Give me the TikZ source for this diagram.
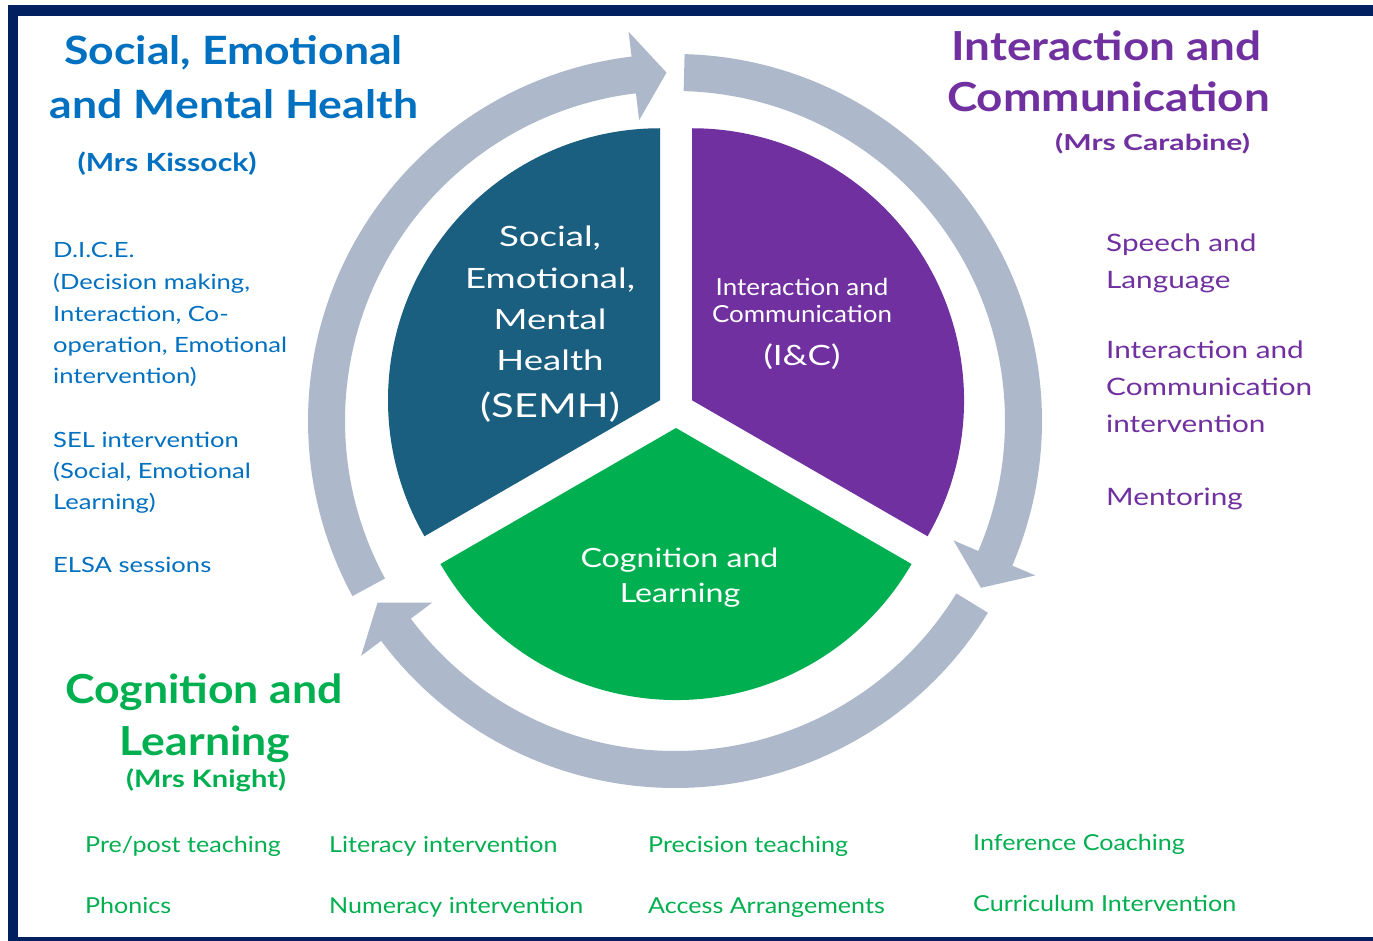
\documentclass[tikz,border=0pt]{standalone}
\usepackage{fontspec}
\setmainfont{Lato}
\usepackage{graphicx}
\definecolor{navy}{HTML}{002060}
\definecolor{semhfill}{HTML}{1A5E80}
\definecolor{icfill}{HTML}{7030A0}
\definecolor{clfill}{HTML}{00B050}
\definecolor{ringgray}{HTML}{ADB9CA}
\definecolor{tblue}{HTML}{0070C0}
\definecolor{tpurple}{HTML}{7030A0}
\definecolor{tgreen}{HTML}{00B050}
\newlength\tw
\newcommand\mkstretch[3]{\settowidth\tw{#3}\pgfmathsetmacro#1{#2/\tw}}
\newcommand\fHA{\fontsize{39}{39}\selectfont\bfseries}
\newcommand\fHB{\fontsize{40}{40}\selectfont\bfseries}
\newcommand\fHC{\fontsize{40}{40}\selectfont\bfseries}
\newcommand\fMA{\fontsize{25}{25}\selectfont\bfseries}
\newcommand\fMB{\fontsize{22}{22}\selectfont\bfseries}
\newcommand\fMC{\fontsize{24}{24}\selectfont\bfseries}
\newcommand\fSS{\fontsize{28}{28}\selectfont}
\newcommand\fSX{\fontsize{33}{33}\selectfont}
\newcommand\fSI{\fontsize{23.5}{23.5}\selectfont}
\newcommand\fSJ{\fontsize{28}{28}\selectfont}
\newcommand\fSG{\fontsize{26.5}{26.5}\selectfont}
\newcommand\fLB{\fontsize{21}{21}\selectfont}
\newcommand\fLP{\fontsize{24}{24}\selectfont}
\newcommand\fLG{\fontsize{22}{22}\selectfont}
\tikzset{
  tc/.style={inner sep=0pt, anchor=base},
  tl/.style={inner sep=0pt, anchor=base west},
  ringarrow/.style={fill=ringgray},
  frame/.style={fill=navy},
}
\begin{document}
\mkstretch\sHA{368}{\fHA and Mental Health}%
\mkstretch\sHB{323}{\fHB Communication}%
\mkstretch\sHC{278}{\fHC Cognition and}%
\mkstretch\sMA{179}{\fMA (Mrs Kissock)}%
\mkstretch\sMB{195}{\fMB (Mrs Carabine)}%
\mkstretch\sMC{160}{\fMC (Mrs Knight)}%
\mkstretch\sSS{170}{\fSS Emotional,}%
\mkstretch\sSX{140}{\fSX (SEMH)}%
\mkstretch\sSI{180}{\fSI Communication}%
\mkstretch\sSJ{77}{\fSJ (I\&C)}%
\mkstretch\sSG{198}{\fSG Cognition and}%
\mkstretch\sLB{234}{\fLB operation, Emotional}%
\mkstretch\sLP{206}{\fLP Communication}%
\mkstretch\sLG{254}{\fLG Numeracy intervention}%
\begin{tikzpicture}[x=1pt,y=1pt]
\useasboundingbox (0,0) rectangle (1373,-941);
\fill[white] (0,0) rectangle (1373,-941);
% frame: top, left, bottom (no right side visible)
\fill[frame] (7.5,-5) rectangle (1373,-16);
\fill[frame] (7.5,-5) rectangle (18,-941);
\fill[frame] (7.5,-936.5) rectangle (1373,-941);
% ring arrows
\begin{scope}[shift={(675,-421)}]
\foreach \t in {208.5, 88.5, -31.5} {
  \fill[ringarrow] (\t:367) arc[start angle=\t, end angle=\t-111.7, radius=367]
    -- ({\t-111.7}:392) -- ({\t-117.1}:348.5) -- ({\t-111.7}:303) -- ({\t-111.7}:330)
    arc[start angle=\t-111.7, end angle=\t, radius=330] -- cycle;
}
\end{scope}
% pie
\fill[semhfill] (660,-400.25) -- ++(90:272) arc[start angle=90, end angle=210, radius=272] -- cycle;
\fill[icfill] (692,-400.25) -- ++(-30:272) arc[start angle=-30, end angle=90, radius=272] -- cycle;
\fill[clfill] (676,-428) -- ++(210:272) arc[start angle=210, end angle=330, radius=272] -- cycle;
% sector texts
\begin{scope}[text=white]
\node[tc] (s1) at (550,-247) {\fSS\scalebox{\sSS}[1]{Social,}};
\node[tc] (s2) at (550,-288) {\fSS\scalebox{\sSS}[1]{Emotional,}};
\node[tc] (s3) at (550,-330) {\fSS\scalebox{\sSS}[1]{Mental}};
\node[tc] (s4) at (550,-370) {\fSS\scalebox{\sSS}[1]{Health}};
\node[tc] (s5) at (550,-417) {\fSX\scalebox{\sSX}[1]{(SEMH)}};
\node[tc] (i1) at (802,-295) {\fSI\scalebox{\sSI}[1]{Interaction and}};
\node[tc] (i2) at (802,-323) {\fSI\scalebox{\sSI}[1]{Communication}};
\node[tc] (i3) at (802,-365) {\fSJ\scalebox{\sSJ}[1]{(I\&C)}};
\node[tc] (g1) at (679.5,-567) {\fSG\scalebox{\sSG}[1]{Cognition and}};
\node[tc] (g2) at (680,-602) {\fSG\scalebox{\sSG}[1]{Learning}};
\end{scope}
% headings and lists
\begin{scope}[text=tblue]
\node[tc] (ha1) at (233.5,-65) {\fHA\scalebox{\sHA}[1]{Social, Emotional}};
\node[tc] (ha2) at (234,-119) {\fHA\scalebox{\sHA}[1]{and Mental Health}};
\node[tc] (ha3) at (167,-172) {\fMA\scalebox{\sMA}[1]{(Mrs Kissock)}};
\node[tl] (la1) at (53,-258) {\fLB\scalebox{\sLB}[1]{D.I.C.E.}};
\node[tl] (la2) at (53,-290) {\fLB\scalebox{\sLB}[1]{(Decision making,}};
\node[tl] (la3) at (53,-321) {\fLB\scalebox{\sLB}[1]{Interaction, Co-}};
\node[tl] (la4) at (53,-352) {\fLB\scalebox{\sLB}[1]{operation, Emotional}};
\node[tl] (la5) at (53,-383) {\fLB\scalebox{\sLB}[1]{intervention)}};
\node[tl] (la6) at (53,-447) {\fLB\scalebox{\sLB}[1]{SEL intervention}};
\node[tl] (la7) at (53,-478) {\fLB\scalebox{\sLB}[1]{(Social, Emotional}};
\node[tl] (la8) at (53,-509) {\fLB\scalebox{\sLB}[1]{Learning)}};
\node[tl] (la9) at (53,-572) {\fLB\scalebox{\sLB}[1]{ELSA sessions}};
\end{scope}
\begin{scope}[text=tpurple]
\node[tc] (hb1) at (1106.5,-61) {\fHB\scalebox{\sHB}[1]{Interaction and}};
\node[tc] (hb2) at (1108.5,-112) {\fHB\scalebox{\sHB}[1]{Communication}};
\node[tc] (hb3) at (1152.5,-151) {\fMB\scalebox{\sMB}[1]{(Mrs Carabine)}};
\node[tl] (lb1) at (1106,-252) {\fLP\scalebox{\sLP}[1]{Speech and}};
\node[tl] (lb2) at (1106,-288) {\fLP\scalebox{\sLP}[1]{Language}};
\node[tl] (lb3) at (1106,-358) {\fLP\scalebox{\sLP}[1]{Interaction and}};
\node[tl] (lb4) at (1106,-395) {\fLP\scalebox{\sLP}[1]{Communication}};
\node[tl] (lb5) at (1106,-432) {\fLP\scalebox{\sLP}[1]{intervention}};
\node[tl] (lb6) at (1106,-505) {\fLP\scalebox{\sLP}[1]{Mentoring}};
\end{scope}
\begin{scope}[text=tgreen]
\node[tc] (hc1) at (204,-703) {\fHC\scalebox{\sHC}[1]{Cognition and}};
\node[tc] (hc2) at (205,-755) {\fHC\scalebox{\sHC}[1]{Learning}};
\node[tc] (hc3) at (206,-787) {\fMC\scalebox{\sMC}[1]{(Mrs Knight)}};
\node[tl] (lc1) at (85,-852) {\fLG\scalebox{\sLG}[1]{Pre/post teaching}};
\node[tl] (lc2) at (329,-852) {\fLG\scalebox{\sLG}[1]{Literacy intervention}};
\node[tl] (lc3) at (648,-852) {\fLG\scalebox{\sLG}[1]{Precision teaching}};
\node[tl] (lc4) at (973,-850) {\fLG\scalebox{\sLG}[1]{Inference Coaching}};
\node[tl] (lc5) at (85,-913) {\fLG\scalebox{\sLG}[1]{Phonics}};
\node[tl] (lc6) at (329,-913) {\fLG\scalebox{\sLG}[1]{Numeracy intervention}};
\node[tl] (lc7) at (648,-913) {\fLG\scalebox{\sLG}[1]{Access Arrangements}};
\node[tl] (lc8) at (973,-911) {\fLG\scalebox{\sLG}[1]{Curriculum Intervention}};
\end{scope}
\end{tikzpicture}
\end{document}
